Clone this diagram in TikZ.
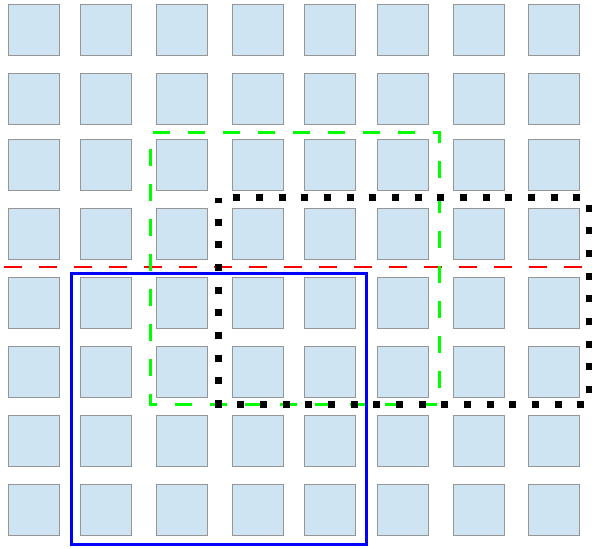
\documentclass[tikz,border=0pt]{standalone}
\definecolor{cellfill}{RGB}{207,228,242}
\definecolor{cellline}{RGB}{150,150,150}
\definecolor{greenline}{RGB}{0,255,0}
\definecolor{blueline}{RGB}{0,0,255}
\definecolor{redline}{RGB}{255,0,0}
\tikzset{
  cell/.style={rectangle, draw=cellline, fill=cellfill, line width=1pt,
    minimum width=51pt, minimum height=51pt, inner sep=0pt},
  redsplit/.style={draw=redline, line width=1.2pt, dash pattern=on 17.5pt off 17.5pt},
  greenbox/.style={draw=greenline, line width=3pt, dash pattern=on 17pt off 18pt, dash phase=31.7pt},
  bluebox/.style={draw=blueline, line width=3pt},
  blackbox/.style={draw=black, line width=7pt, dash pattern=on 7pt off 15.67pt, dash phase=7.87pt}
}
\begin{document}
\begin{tikzpicture}[x=1pt,y=-1pt]
\useasboundingbox (0,0) rectangle (592,549);
\foreach \cx [count=\i] in {8,80.3,156.3,232.3,304.3,376.7,452.5,528.3}{
  \foreach \cy [count=\j] in {4.3,73.3,139,208.3,277,346,415,484}{
    \node[cell] (sq-\j-\i) at (\cx+26,\cy+26) {};
  }
}
\coordinate (redA) at (4,267);
\coordinate (redB) at (588,267);
\draw[redsplit] (redA) -- (redB);
\draw[greenbox] (150,132) -- (439,132) -- (439,404) -- (150,404) -- cycle;
\draw[bluebox] (71.5,273.8) rectangle (366.5,544.7);
\draw[blackbox] (218.5,197.7) -- (589,197.7) -- (589,404) -- (218.5,404) -- cycle;
\end{tikzpicture}
\end{document}
